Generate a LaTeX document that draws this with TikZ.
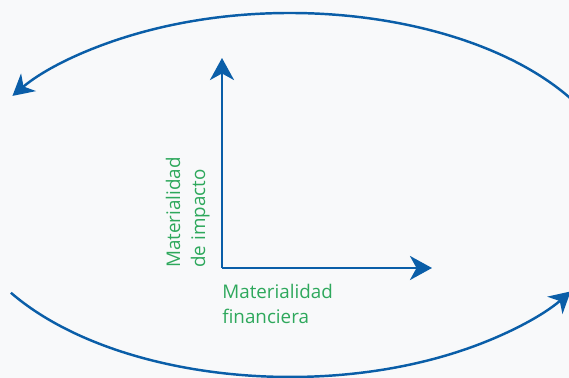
\documentclass[tikz,border=0pt]{standalone}
\usepackage{fontspec}
\setmainfont{Open Sans}
\usetikzlibrary{arrows.meta}
\definecolor{axisblue}{HTML}{0A5EA8}
\definecolor{labelgreen}{HTML}{2EA85C}
\definecolor{paper}{HTML}{F8F9FA}
\tikzset{
    loop arrow/.style={draw=axisblue, line width=1.4pt, -{Stealth[length=0.42cm, width=0.46cm, inset=0.13cm]}},
    axis arrow/.style={draw=axisblue, line width=1.6pt, -{Stealth[length=0.44cm, width=0.48cm, inset=0.13cm]}},
    axis label/.style={text=labelgreen, align=left, inner sep=0pt, font=\fontsize{10.7}{14.2}\selectfont}
}
\begin{document}
\begin{tikzpicture}[x=0.02cm, y=0.02cm]
            % Background
            \fill[paper] (0,0) rectangle (569,-378);
            \clip (0,0) rectangle (569,-378);
            % Loop arcs
            \coordinate (Centre) at (290,-195);
            \draw[loop arrow] (Centre) ++(25:6.62cm and 3.64cm)
                arc[start angle=25, end angle=147, x radius=6.62cm, y radius=3.64cm];
            \draw[loop arrow] (Centre) ++(212.5:6.62cm and 3.64cm)
                arc[start angle=212.5, end angle=328, x radius=6.62cm, y radius=3.64cm];
            % Axes
            \coordinate (Origin) at (222,-268);
            \coordinate (Axis-y) at (222,-58);
            \coordinate (Axis-x) at (432,-268);
            \foreach \i in {x,y} {
                \draw[axis arrow] (Origin) -- (Axis-\i);
            }
            % Labels
            \node[axis label, rotate=90, anchor=south west] (Label-y) at (210,-268) {Materialidad\\de impacto};
            \node[axis label, anchor=north west] (Label-x) at (222,-284) {Materialidad\\financiera};
        \end{tikzpicture}
\end{document}
